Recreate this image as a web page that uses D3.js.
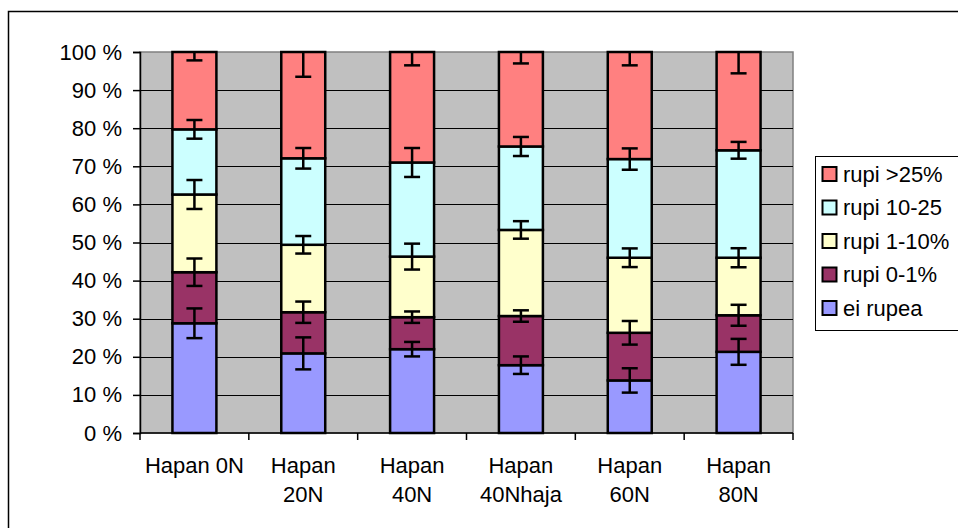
<!DOCTYPE html>
<html>
<head>
<meta charset="utf-8">
<script src="https://cdn.jsdelivr.net/npm/d3@7"></script>
<style>
  body { margin: 0; background: #fff; }
  text { font-family: "Liberation Sans", Arial, sans-serif; fill: #000; }
</style>
</head>
<body>
<script>
//categories and their wrapped label lines
var categories = ["Hapan 0N", "Hapan 20N", "Hapan 40N", "Hapan 40Nhaja", "Hapan 60N", "Hapan 80N"];
var categoryLines = [["Hapan 0N"], ["Hapan", "20N"], ["Hapan", "40N"], ["Hapan", "40Nhaja"], ["Hapan", "60N"], ["Hapan", "80N"]];

//series names, bottom to top
var seriesNames = ["ei rupea", "rupi 0-1%", "rupi 1-10%", "rupi 10-25", "rupi >25%"];
var seriesColors = ["#9999ff", "#993366", "#ffffcc", "#ccffff", "#ff8080"];

//percent shares per series
var eiRupea  = [28.8, 20.9, 22.0, 17.8, 13.8, 21.3];
var rupi01   = [13.4, 10.8,  8.4, 12.9, 12.5,  9.6];
var rupi110  = [20.4, 17.7, 15.9, 22.6, 19.7, 15.1];
var rupi1025 = [17.1, 22.7, 24.7, 21.9, 25.9, 28.2];
var rupi25   = [20.3, 27.9, 29.0, 24.8, 28.1, 25.8];

//error bar half widths (percentage points) at top of each segment
var errEi   = [3.9, 4.2, 1.9, 2.3, 3.2, 3.4];
var err01   = [3.6, 2.8, 1.5, 1.5, 3.1, 2.75];
var err110  = [3.8, 2.3, 3.4, 2.3, 2.45, 2.5];
var err1025 = [2.45, 2.7, 3.8, 2.5, 2.8, 2.2];
var err25   = [2.2, 6.5, 3.5, 3.0, 3.5, 5.6];

var yTicks = [0, 10, 20, 30, 40, 50, 60, 70, 80, 90, 100];

var seriesValues = [eiRupea, rupi01, rupi110, rupi1025, rupi25];
var seriesErrors = [errEi, err01, err110, err1025, err25];

var width = 958, height = 528;
var plotLeft = 140, plotRight = 793, plotTop = 52, plotBottom = 433;
var fontSize = 22;

var svg = d3.select("body").append("svg")
    .attr("width", width)
    .attr("height", height);

//outer chart border
svg.append("rect")
    .attr("x", 8.5).attr("y", 11.5)
    .attr("width", 1000).attr("height", 600)
    .attr("fill", "#fff")
    .attr("stroke", "#000")
    .attr("stroke-width", 1.5);

//table for the stack layout
var table = categories.map(function(c, i) {
    var row = { cat: c };
    seriesNames.forEach(function(s, j) { row[s] = seriesValues[j][i]; });
    return row;
});

var stacked = d3.stack().keys(seriesNames)(table);

var x = d3.scaleBand()
    .domain(categories)
    .range([plotLeft, plotRight])
    .paddingInner(0.596)
    .paddingOuter(0.298);

var y = d3.scaleLinear()
    .domain([0, 100])
    .range([plotBottom, plotTop]);

//plot area
svg.append("rect")
    .attr("x", plotLeft).attr("y", plotTop)
    .attr("width", plotRight - plotLeft).attr("height", plotBottom - plotTop)
    .attr("fill", "#c0c0c0")
    .attr("stroke", "#808080")
    .attr("stroke-width", 1.5);

svg.append("defs").append("clipPath").attr("id", "plotclip")
    .append("rect")
    .attr("x", plotLeft).attr("y", plotTop)
    .attr("width", plotRight - plotLeft).attr("height", plotBottom - plotTop);

//gridlines
svg.append("g").selectAll("line")
    .data(yTicks.filter(function(d) { return d > 0 && d < 100; }))
    .enter().append("line")
    .attr("x1", plotLeft).attr("x2", plotRight)
    .attr("y1", function(d) { return Math.round(y(d)) + 0.5; })
    .attr("y2", function(d) { return Math.round(y(d)) + 0.5; })
    .attr("stroke", "#000")
    .attr("stroke-width", 1);

//bars
var layers = svg.append("g").selectAll("g")
    .data(stacked)
    .enter().append("g")
    .attr("fill", function(d, i) { return seriesColors[i]; });

layers.selectAll("rect")
    .data(function(d) { return d; })
    .enter().append("rect")
    .attr("x", function(d) { return x(d.data.cat); })
    .attr("y", function(d) { return y(d[1]); })
    .attr("width", x.bandwidth())
    .attr("height", function(d) { return y(d[0]) - y(d[1]); })
    .attr("stroke", "#000")
    .attr("stroke-width", 2.5);

//error bars
var capW = 16;
var errG = svg.append("g").attr("clip-path", "url(#plotclip)")
    .attr("stroke", "#000").attr("stroke-width", 2.5);

stacked.forEach(function(layer, j) {
    layer.forEach(function(d, i) {
        var cx = x(d.data.cat) + x.bandwidth() / 2;
        var e = seriesErrors[j][i];
        var y0 = y(d[1] - e), y1 = y(d[1] + e);
        errG.append("line").attr("x1", cx).attr("x2", cx).attr("y1", y0).attr("y2", y1);
        errG.append("line").attr("x1", cx - capW / 2).attr("x2", cx + capW / 2).attr("y1", y0).attr("y2", y0);
        errG.append("line").attr("x1", cx - capW / 2).attr("x2", cx + capW / 2).attr("y1", y1).attr("y2", y1);
    });
});

//y axis
var yAxis = svg.append("g")
    .attr("transform", "translate(" + plotLeft + ",0)")
    .call(d3.axisLeft(y).tickValues(yTicks).tickFormat(function(d) { return d + " %"; }).tickSize(7).tickPadding(11));
yAxis.select(".domain").attr("stroke", "#000").attr("stroke-width", 1.5);
yAxis.selectAll(".tick line").attr("stroke", "#000").attr("stroke-width", 1.5);
yAxis.selectAll("text").attr("font-size", fontSize).attr("font-family", "Liberation Sans, Arial, sans-serif").attr("fill", "#000");

//x axis line and ticks at category boundaries
svg.append("line")
    .attr("x1", plotLeft).attr("x2", plotRight)
    .attr("y1", plotBottom).attr("y2", plotBottom)
    .attr("stroke", "#000").attr("stroke-width", 1.5);

svg.append("g").selectAll("line")
    .data(d3.range(categories.length + 1))
    .enter().append("line")
    .attr("x1", function(i) { return plotLeft + i * x.step(); })
    .attr("x2", function(i) { return plotLeft + i * x.step(); })
    .attr("y1", plotBottom).attr("y2", plotBottom + 7)
    .attr("stroke", "#000").attr("stroke-width", 1.5);

//x labels
var labels = svg.append("g").selectAll("text")
    .data(categories)
    .enter().append("text")
    .attr("text-anchor", "middle")
    .attr("font-size", fontSize)
    .attr("x", function(d) { return x(d) + x.bandwidth() / 2; });

labels.selectAll("tspan")
    .data(function(d, i) { return categoryLines[i]; })
    .enter().append("tspan")
    .attr("x", function() { return d3.select(this.parentNode).attr("x"); })
    .attr("y", function(d, k) { return 473 + k * 29; })
    .text(function(d) { return d; });

//legend
var legend = svg.append("g");
legend.append("rect")
    .attr("x", 815.5).attr("y", 156.5)
    .attr("width", 200).attr("height", 174)
    .attr("fill", "#fff")
    .attr("stroke", "#000")
    .attr("stroke-width", 1);

var legendOrder = seriesNames.slice().reverse();
var items = legend.selectAll(".item")
    .data(legendOrder)
    .enter().append("g")
    .attr("class", "item")
    .attr("transform", function(d, i) { return "translate(822," + (174 + i * 33.5) + ")"; });

items.append("rect")
    .attr("x", 0.5).attr("y", -7)
    .attr("width", 14).attr("height", 14)
    .attr("fill", function(d) { return seriesColors[seriesNames.indexOf(d)]; })
    .attr("stroke", "#000")
    .attr("stroke-width", 2);

items.append("text")
    .attr("x", 21)
    .attr("y", 0)
    .attr("dy", "0.36em")
    .attr("font-size", fontSize)
    .text(function(d) { return d; });
</script>
</body>
</html>
